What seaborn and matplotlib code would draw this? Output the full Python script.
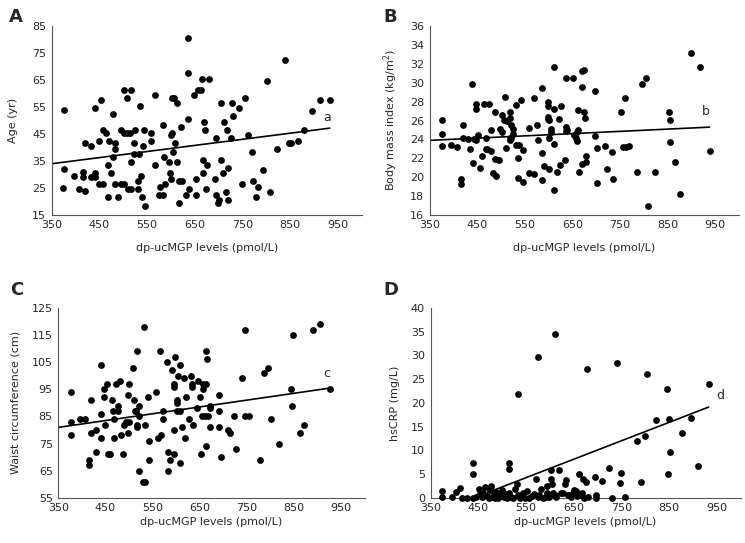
"""
Scatter plots of dp-ucMGP levels against age, BMI, waist circumference and hsCRP,
each with its linear trend line.
"""

import matplotlib
matplotlib.use("Agg")
import matplotlib.pyplot as plt
import numpy as np
import pandas as pd
import seaborn as sns

# ----------------------------
# Data
# ----------------------------
dp_age = [376, 376, 374, 397, 407, 415, 415, 420, 420, 432,
          432, 440, 440, 440, 449, 449, 453, 457, 457, 463,
          467, 467, 470, 475, 478, 478, 482, 482, 482, 489,
          496, 496, 501, 501, 502, 508, 508, 510, 515, 517,
          517, 517, 522, 523, 525, 530, 530, 533, 534, 537,
          539, 541, 544, 546, 558, 558, 567, 567, 574, 576,
          583, 583, 585, 588, 595, 597, 599, 599, 602, 603,
          604, 607, 609, 613, 613, 616, 617, 620, 624, 631,
          635, 635, 635, 638, 648, 652, 653, 656, 662, 665,
          668, 668, 670, 672, 673, 675, 679, 692, 694, 694,
          698, 701, 704, 705, 710, 712, 715, 717, 720, 720,
          725, 729, 731, 743, 750, 755, 762, 769, 771, 778,
          783, 793, 801, 807, 822, 839, 847, 852, 867, 878,
          896, 912, 933]
age = [54, 32, 25, 29.5, 24.5, 31, 29, 24, 41.5, 40.5,
       29, 54.5, 30.5, 29, 42.5, 26.5, 57.5, 26.5, 46.5, 45.5,
       33.5, 21.5, 42.5, 30.5, 36.5, 52.5, 41.5, 39.5, 26.5, 21.5,
       46.5, 26.5, 61.5, 26.5, 45.5, 58.5, 45.5, 24.5, 45.5, 24.5,
       34.5, 61.5, 41.5, 37.5, 46.5, 27.5, 24.5, 37.5, 55.5, 29.5,
       21.5, 40.5, 46.5, 18.5, 45.5, 42.5, 59.5, 33.5, 22.5, 25.5,
       48.5, 22.5, 36.5, 26.5, 34.5, 30.5, 28.5, 44.5, 58.5, 45.5,
       38.5, 58.5, 41.5, 56.5, 34.5, 27.5, 19.5, 47.5, 27.5, 22.5,
       50.5, 67.5, 80.5, 24.5, 59.5, 28.5, 22.5, 61.5, 61.5, 65.5,
       35.5, 30.5, 49.5, 46.5, 24.5, 33.5, 65.5, 28.5, 22.5, 43.5,
       19.5, 20.5, 56.5, 35.5, 30.5, 49.5, 23.5, 46.5, 20.5, 32.5,
       43.5, 56.5, 51.5, 54.5, 26.5, 58.5, 44.5, 38.5, 27.5, 21.5,
       25.5, 31.5, 64.5, 23.5, 39.5, 72.5, 41.5, 41.5, 42.5, 46.5,
       53.5, 57.5, 57.5]

dp_bmi = [375, 375, 375, 395, 406, 415, 415, 420, 420, 431,
          434, 438, 440, 443, 448, 448, 448, 452, 455, 459,
          464, 468, 468, 471, 475, 479, 479, 482, 486, 486,
          490, 496, 497, 502, 502, 506, 509, 511, 513, 518,
          518, 518, 518, 521, 521, 525, 525, 531, 531, 535,
          535, 538, 542, 545, 546, 559, 559, 568, 568, 575,
          577, 586, 586, 586, 590, 598, 598, 598, 598, 601,
          601, 601, 604, 604, 610, 612, 612, 612, 618, 621,
          624, 626, 634, 636, 636, 636, 639, 650, 653, 657,
          659, 659, 662, 662, 664, 669, 669, 670, 674, 674,
          677, 678, 678, 698, 698, 701, 702, 719, 723, 732,
          736, 751, 757, 760, 763, 768, 786, 796, 805, 809,
          824, 852, 855, 855, 865, 875, 900, 917, 938]
bmi = [26.1, 24.6, 23.3, 23.4, 23.2, 19.8, 19.3, 25.5, 24.2, 24.0,
       23.0, 29.9, 21.5, 24.0, 27.2, 27.8, 23.9, 24.5, 21.0, 22.2,
       27.8, 24.1, 23.0, 23.0, 27.8, 22.8, 25.0, 20.4, 26.9, 21.9,
       20.1, 21.8, 25.1, 26.6, 24.8, 26.1, 28.5, 23.1, 26.0, 26.9,
       26.3, 24.2, 23.9, 25.5, 24.1, 25.1, 24.6, 23.4, 27.6, 22.0,
       19.9, 23.4, 28.2, 22.9, 19.5, 25.2, 20.4, 28.4, 20.3, 25.5,
       23.9, 29.4, 22.6, 19.7, 21.2, 28.0, 27.5, 26.4, 26.2, 26.1,
       20.9, 24.2, 25.1, 24.8, 31.7, 27.2, 23.5, 18.6, 20.6, 26.2,
       21.3, 27.5, 21.8, 30.5, 25.3, 24.9, 25.0, 30.5, 24.5, 24.1,
       23.8, 24.8, 27.1, 25.0, 20.6, 31.2, 29.5, 21.4, 31.4, 26.9,
       26.3, 21.6, 22.2, 24.4, 29.1, 23.1, 19.4, 23.3, 20.9, 22.7,
       19.8, 26.9, 23.2, 28.4, 23.2, 23.3, 20.6, 29.9, 30.5, 17.0,
       20.6, 26.9, 23.7, 26.1, 21.6, 18.2, 33.1, 31.7, 22.8]

dp_waist = [377, 377, 377, 395, 406, 415, 415, 420, 420, 430,
            430, 440, 440, 440, 448, 448, 449, 453, 455, 460,
            463, 466, 469, 468, 473, 476, 476, 481, 482, 487,
            490, 493, 497, 497, 500, 501, 508, 510, 512, 514,
            517, 517, 517, 521, 521, 521, 529, 534, 532, 534,
            540, 542, 543, 558, 562, 568, 566, 573, 572, 581,
            582, 582, 588, 592, 595, 595, 596, 596, 598, 601,
            602, 602, 605, 608, 609, 609, 613, 616, 619, 622,
            627, 632, 633, 633, 636, 644, 647, 651, 653, 654,
            657, 658, 661, 663, 666, 664, 664, 668, 672, 672,
            672, 692, 692, 692, 696, 710, 714, 722, 727, 739,
            746, 746, 754, 778, 787, 795, 802, 818, 843, 846,
            848, 863, 871, 891, 905, 927]
waist = [94, 83, 78, 84, 84, 67, 69, 91, 79, 72,
         80, 104, 86, 77, 95, 92, 82, 97, 71, 71,
         91, 87, 84, 77, 97, 87, 89, 98, 78, 71,
         82, 83, 93, 79, 97, 83, 103, 91, 87, 87,
         109, 81, 82, 89, 85, 65, 61, 61, 118, 82,
         92, 76, 69, 94, 77, 78, 109, 87, 84, 105,
         72, 65, 69, 102, 97, 96, 80, 71, 107, 87,
         91, 90, 100, 104, 87, 68, 81, 99, 77, 92,
         84, 100, 97, 96, 82, 88, 98, 92, 71, 85,
         95, 97, 85, 109, 106, 97, 74, 85, 89, 88,
         81, 93, 87, 81, 70, 80, 79, 85, 73, 99,
         117, 85, 85, 69, 101, 103, 84, 75, 95, 89,
         115, 79, 82, 117, 119, 95]

dp_crp = [373, 373, 394, 404, 412, 416, 427, 438, 438, 438,
          445, 452, 452, 458, 460, 465, 468, 472, 474, 476,
          478, 482, 485, 488, 492, 495, 499, 503, 505, 510,
          515, 515, 515, 518, 522, 527, 531, 533, 533, 537,
          540, 543, 547, 553, 557, 562, 566, 572, 575, 575,
          578, 582, 586, 591, 595, 595, 598, 603, 603, 604,
          606, 610, 610, 614, 620, 623, 627, 631, 634, 638,
          641, 645, 648, 651, 654, 657, 662, 665, 667, 669,
          672, 675, 677, 680, 694, 696, 696, 710, 725, 730,
          741, 748, 749, 757, 783, 791, 800, 804, 822, 845,
          847, 851, 853, 877, 896, 911, 933]
crp = [1.5, 0.1, 0.1, 1.3, 2.0, 0, 0, 7.3, 5.1, 0,
       0.3, 0.7, 1.8, 0.2, 1.1, 2.3, 0.5, 0, 1.6, 2.5,
       0.3, 0.9, 0, 1.2, 0, 0.6, 1.7, 0.2, 0.9, 0,
       7.3, 6.0, 1.1, 0.3, 0, 1.8, 2.9, 0.7, 21.8, 0,
       0.2, 1.1, 0, 1.5, 0, 0.5, 0.8, 4.0, 0.2, 29.7,
       0.7, 1.8, 0, 0.3, 1.1, 2.5, 0.1, 5.8, 4.0, 2.9,
       1.0, 0.6, 34.5, 0.1, 5.8, 1.0, 1.1, 3.0, 3.8, 0.6,
       0.7, 0.2, 1.1, 1.6, 1.5, 0.5, 5.1, 0.7, 1.1, 4.0,
       0, 3.4, 27.2, 0.1, 4.4, 0.7, 0, 3.6, 6.4, 0,
       28.3, 3.2, 5.2, 0.1, 11.9, 3.3, 13.0, 26.0, 16.4, 23.0,
       5.1, 16.7, 9.7, 13.6, 16.9, 6.7, 24.0]

# linear trend lines as shown in the figure: (intercept, slope)
trend_age = (26.1, 0.0226)
trend_bmi = (23.07, 0.00238)
trend_waist = (72.2, 0.0251)
trend_crp = (-17.08, 0.0388)

X_LABEL = "dp-ucMGP levels (pmol/L)"
X_TICKS = [350, 450, 550, 650, 750, 850, 950]


def draw_panel(fig, rect, x, y, trend, ylabel, yticks, tag, tag_xy,
               letter, letter_xy, ylab_x, xlab_y):
    ax = fig.add_axes(rect)
    df = pd.DataFrame({"x": x, "y": y})

    sns.scatterplot(data=df, x="x", y="y", ax=ax, color="black", s=24,
                    linewidth=0, legend=False, clip_on=False, zorder=3)

    # trend line from the axis start to the last subject
    icpt, slope = trend
    xs = np.array([X_TICKS[0], df["x"].max()])
    ax.plot(xs, icpt + slope * xs, color="black", lw=1.2, zorder=2)
    ax.text(*tag_xy, tag, fontsize=9, ha="center", va="center")

    ax.set_xlim(350, 1000)
    ax.set_ylim(yticks[0], yticks[-1])
    ax.set_xticks(X_TICKS)
    ax.set_yticks(yticks)
    ax.set_xlabel(X_LABEL, fontsize=8)
    ax.set_ylabel(ylabel, fontsize=8)
    ax.xaxis.set_label_coords(0.5, xlab_y)
    ax.yaxis.set_label_coords(ylab_x, 0.5)

    sns.despine(ax=ax)
    for side in ("left", "bottom"):
        ax.spines[side].set_color("#555555")
        ax.spines[side].set_linewidth(0.8)
    ax.tick_params(axis="both", direction="in", length=3, width=0.8,
                   color="#555555", labelsize=8)
    ax.tick_params(axis="x", pad=3.5)
    ax.tick_params(axis="y", pad=4)

    fig.text(*letter_xy, letter, fontsize=13, fontweight="bold",
             ha="left", va="top")
    return ax


sns.set_style("white")
plt.rcParams["font.family"] = ["DejaVu Sans"]

fig = plt.figure(figsize=(7.45, 5.43), dpi=100)

draw_panel(fig, [0.0695, 0.604, 0.416, 0.348], dp_age, age, trend_age,
           "Age (yr)", list(range(15, 86, 10)), "a", (927, 51),
           "A", (0.012, 0.985), -0.109, -0.148)
draw_panel(fig, [0.577, 0.604, 0.415, 0.348], dp_bmi, bmi, trend_bmi,
           "Body mass index (kg/m$^2$)", list(range(16, 37, 2)), "b", (930, 27),
           "B", (0.515, 0.985), -0.097, -0.148)
draw_panel(fig, [0.0783, 0.083, 0.411, 0.350], dp_waist, waist, trend_waist,
           "Waist circumference (cm)", list(range(55, 126, 10)), "c", (920, 101),
           "C", (0.014, 0.482), -0.125, -0.10)
draw_panel(fig, [0.578, 0.083, 0.416, 0.350], dp_crp, crp, trend_crp,
           "hsCRP (mg/L)", list(range(0, 41, 5)), "d", (957, 21.6),
           "D", (0.515, 0.482), -0.098, -0.10)

fig.savefig("out.png", dpi=100)
